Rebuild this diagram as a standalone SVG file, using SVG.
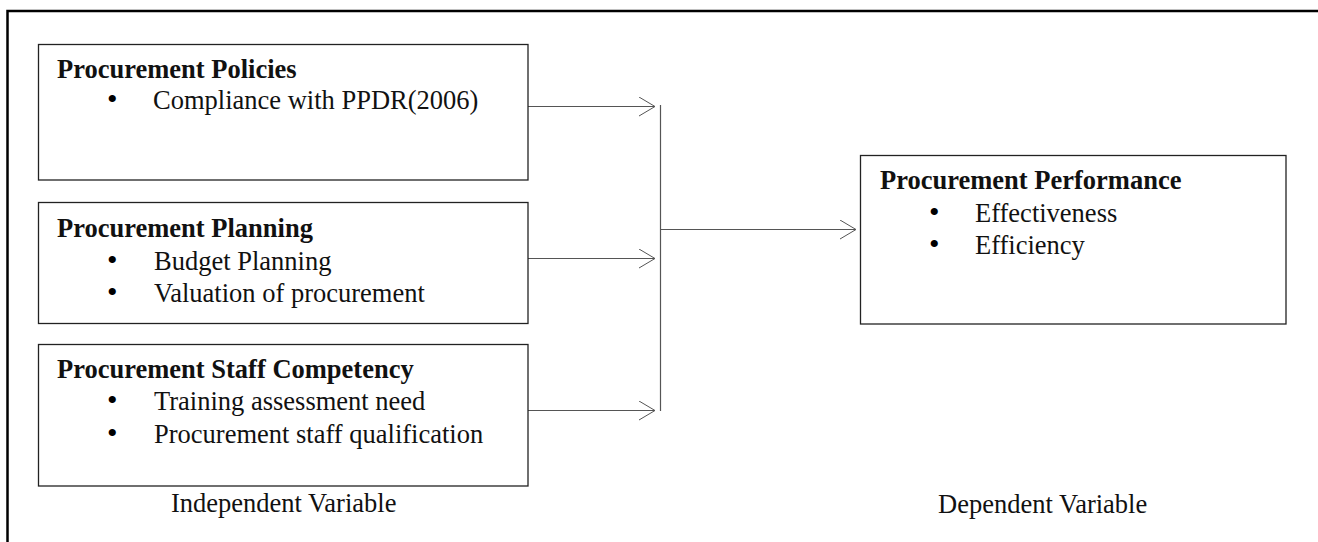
<svg xmlns="http://www.w3.org/2000/svg" width="1318" height="542" viewBox="0 0 1318 542">
  <style>
    .box { fill: #ffffff; stroke: #222222; stroke-width: 1.3; }
    .frame { fill: none; stroke: #000000; stroke-width: 2.5; }
    .conn { fill: none; stroke: #555555; stroke-width: 1.2; }
    .head { fill: none; stroke: #555555; stroke-width: 1; }
    text { font-family: "Liberation Serif", "Times New Roman", serif; font-size: 26.5px; fill: #111111; }
    .title { font-weight: bold; }
    .bullet { font-size: 30px; fill: #000000; }
  </style>
  <defs>
    <marker id="open-arrow" markerWidth="20" markerHeight="22" refX="17" refY="10" orient="auto" markerUnits="userSpaceOnUse">
      <path class="head" d="M1,0.5 L17,10 L1,19.5"/>
    </marker>
  </defs>

  <rect width="1318" height="542" fill="#ffffff"/>

  <!-- outer frame (top and left edges) -->
  <path class="frame" d="M7.5,542 L7.5,11 L1318,11"/>

  <g id="connectors">
    <line class="conn" x1="528" y1="106.5" x2="655" y2="106.5" marker-end="url(#open-arrow)"/>
    <line class="conn" x1="528" y1="258.5" x2="655" y2="258.5" marker-end="url(#open-arrow)"/>
    <line class="conn" x1="528" y1="410.5" x2="655" y2="410.5" marker-end="url(#open-arrow)"/>
    <line class="conn" x1="660.5" y1="105" x2="660.5" y2="411"/>
    <line class="conn" x1="660" y1="229.5" x2="856" y2="229.5" marker-end="url(#open-arrow)"/>
  </g>

  <g id="policies">
    <rect class="box" x="38.5" y="44.5" width="489.5" height="135.5"/>
    <text class="title" x="57" y="78">Procurement Policies</text>
    <text y="109"><tspan class="bullet" x="107">•</tspan><tspan x="153">Compliance with PPDR(2006)</tspan></text>
  </g>

  <g id="planning">
    <rect class="box" x="38.5" y="202.5" width="489.5" height="121"/>
    <text class="title" x="57" y="237">Procurement Planning</text>
    <text y="270"><tspan class="bullet" x="107">•</tspan><tspan x="154">Budget Planning</tspan></text>
    <text y="302"><tspan class="bullet" x="107">•</tspan><tspan x="154">Valuation of procurement</tspan></text>
  </g>

  <g id="competency">
    <rect class="box" x="38.5" y="344.5" width="489.5" height="141.5"/>
    <text class="title" x="57" y="378">Procurement Staff Competency</text>
    <text y="410"><tspan class="bullet" x="107">•</tspan><tspan x="154">Training assessment need</tspan></text>
    <text y="443"><tspan class="bullet" x="107">•</tspan><tspan x="154">Procurement staff qualification</tspan></text>
  </g>

  <g id="performance">
    <rect class="box" x="860.5" y="155.5" width="425.5" height="168.5"/>
    <text class="title" x="880" y="189">Procurement Performance</text>
    <text y="222"><tspan class="bullet" x="929">•</tspan><tspan x="975">Effectiveness</tspan></text>
    <text y="254"><tspan class="bullet" x="929">•</tspan><tspan x="975">Efficiency</tspan></text>
  </g>

  <g id="captions">
    <text x="171" y="512">Independent Variable</text>
    <text x="938" y="513">Dependent Variable</text>
  </g>
</svg>
